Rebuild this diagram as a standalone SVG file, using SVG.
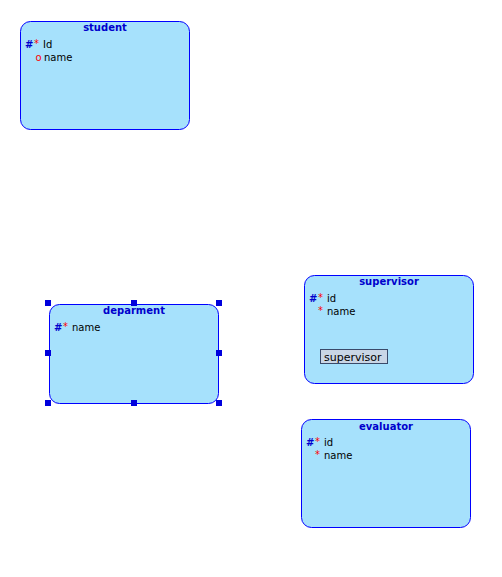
<svg xmlns="http://www.w3.org/2000/svg" width="502" height="577" viewBox="0 0 502 577">
<style>
.box{fill:#a6e1fc;stroke:#0000ff;stroke-width:1}
.title{font-family:"DejaVu Sans",sans-serif;font-size:10px;font-weight:bold;fill:#0000cc;text-anchor:middle}
.t{font-family:"DejaVu Sans",sans-serif;font-size:10px;fill:#000}
.hash{font-family:"DejaVu Sans",sans-serif;font-size:10px;font-weight:bold;fill:#0000cc}
.red{font-family:"DejaVu Sans",sans-serif;font-size:10px;fill:#ff0000}
.h{fill:#0000dd}
</style>
<rect width="502" height="577" fill="#ffffff"/>
<g id="connectors"></g>
<g id="student">
<rect class="box" x="20.5" y="21.5" width="169" height="108" rx="10"/>
<text class="title" x="105" y="31">student</text>
<text class="hash" x="25" y="48">#</text>
<text class="red" x="34" y="47">*</text>
<text class="t" x="43" y="48">Id</text>
<text class="red" x="35.5" y="61">o</text>
<text class="t" x="44" y="61">name</text>
</g>
<g id="deparment">
<rect class="box" x="49.5" y="304.5" width="169" height="99" rx="10"/>
<text class="title" x="134" y="314">deparment</text>
<text class="hash" x="54" y="331">#</text>
<text class="red" x="63" y="330">*</text>
<text class="t" x="72" y="331">name</text>
<rect class="h" x="45" y="300" width="6" height="6"/>
<rect class="h" x="131" y="300" width="6" height="6"/>
<rect class="h" x="216" y="300" width="6" height="6"/>
<rect class="h" x="45" y="350" width="6" height="6"/>
<rect class="h" x="216" y="350" width="6" height="6"/>
<rect class="h" x="45" y="400" width="6" height="6"/>
<rect class="h" x="131" y="400" width="6" height="6"/>
<rect class="h" x="216" y="400" width="6" height="6"/>
</g>
<g id="supervisor">
<rect class="box" x="304.5" y="275.5" width="169" height="108" rx="10"/>
<text class="title" x="389" y="285">supervisor</text>
<text class="hash" x="309" y="302">#</text>
<text class="red" x="318" y="301">*</text>
<text class="t" x="327" y="302">id</text>
<text class="red" x="318" y="314">*</text>
<text class="t" x="327" y="315">name</text>
<rect x="320.5" y="349.5" width="67" height="14" fill="#c9d6e6" stroke="#3a4a6a" stroke-width="1"/>
<text class="t" x="324" y="361" style="font-size:11px">supervisor</text>
</g>
<g id="evaluator">
<rect class="box" x="301.5" y="419.5" width="169" height="108" rx="10"/>
<text class="title" x="386" y="430">evaluator</text>
<text class="hash" x="306" y="446">#</text>
<text class="red" x="315" y="445">*</text>
<text class="t" x="324" y="446">id</text>
<text class="red" x="315" y="458">*</text>
<text class="t" x="324" y="459">name</text>
</g>
</svg>
